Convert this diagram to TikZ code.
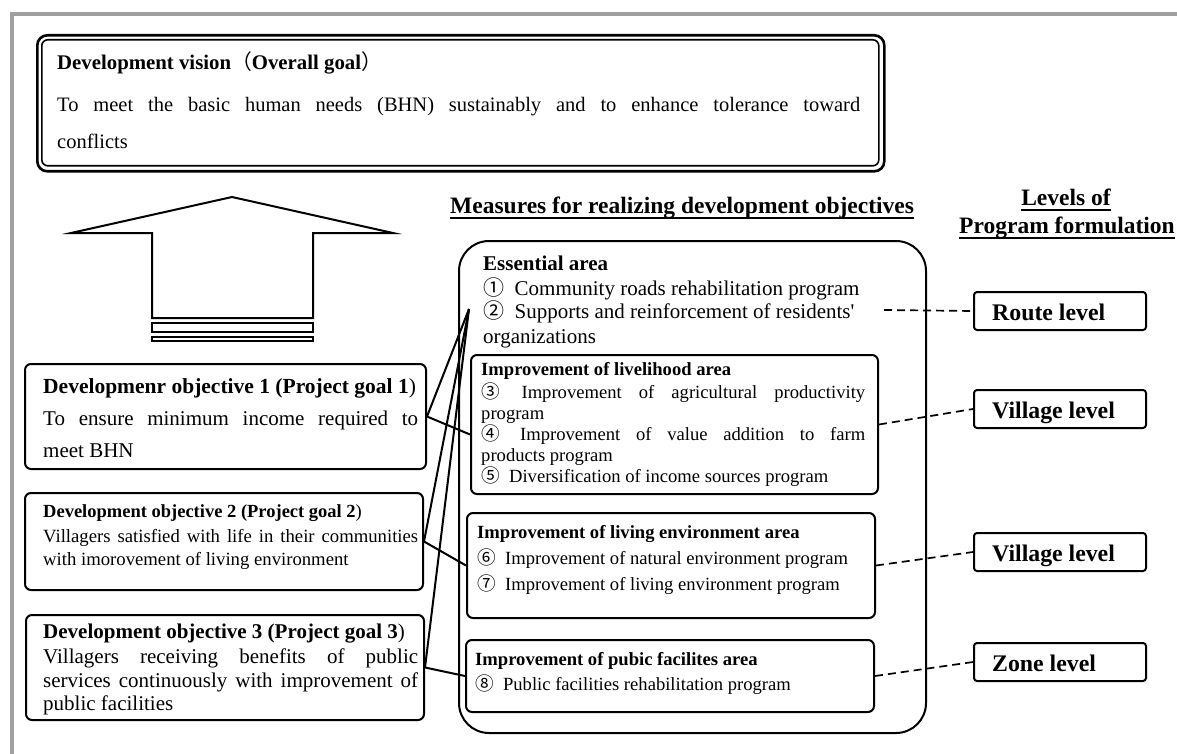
\documentclass[tikz,border=0pt]{standalone}
\usepackage{fontspec}
\setmainfont{Liberation Serif}
\newfontfamily\cjk{Noto Sans CJK JP}
\usetikzlibrary{calc}
\definecolor{framegray}{RGB}{160,160,160}
\newcommand{\fs}[1]{\fontsize{#1}{#1}\selectfont}
\newcommand{\cnum}[1]{{\cjk\mdseries #1}\hspace{0.25em}}
\begin{document}
\begin{tikzpicture}[x=1pt,y=-1pt,
  box/.style={draw, line width=2pt, rounded corners=6pt, anchor=north west, inner sep=0pt},
  lvlbox/.style={draw, line width=2pt, rounded corners=3pt, anchor=north west, inner sep=0pt, minimum width=172pt, minimum height=38pt},
  txt/.style={anchor=base west, inner sep=0pt},
  link/.style={line width=2pt},
  dashline/.style={line width=1.7pt, dash pattern=on 8pt off 5pt},
  ul/.style={line width=1.8pt}
]
\useasboundingbox (0,0) rectangle (1177,754);
% frame
\draw[framegray, line width=3.5pt] (12,756) -- (12,14) -- (1179,14);

% vision box
\node[box, line width=2.6pt, rounded corners=10pt, minimum width=847pt, minimum height=136pt] (visout) at (36,34) {};
\node[box, line width=1.6pt, rounded corners=6pt, minimum width=837pt, minimum height=126pt] (vision) at (41,39) {};
\node[txt] (vt) at (57,70) {\fs{20.8}\bfseries Development vision{\cjk\mdseries （}Overall goal{\cjk\mdseries ）}};
\node[txt] (vl1) at (57,112) {\fs{20.5}\makebox[803pt][s]{To meet the basic human needs (BHN) sustainably and to enhance tolerance toward}};
\node[txt] (vl2) at (57,149) {\fs{20.5}conflicts};

% up arrow
\draw[line width=2pt, line join=miter] (232,197) -- (393,233) -- (313,233) -- (313,318) -- (152,318) -- (152,233) -- (71,233) -- cycle;
\draw[line width=1.7pt] (152,323) rectangle (313,332);
\draw[line width=1.7pt] (152,337) rectangle (313,341);

% objectives
\node[box, minimum width=401pt, minimum height=105pt] (obj1) at (24,363) {};
\node[txt] (o1t) at (43,393) {\fs{21.5}\bfseries Developmenr objective 1 (Project goal 1{\mdseries )}};
\node[txt] (o1a) at (43,425) {\fs{21}\makebox[375pt][s]{To ensure minimum income required to}};
\node[txt] (o1b) at (43,457) {\fs{21}meet BHN};

\node[box, minimum width=398pt, minimum height=97pt] (obj2) at (24,492) {};
\node[txt] (o2t) at (43,517) {\fs{18.5}\bfseries Development objective 2 (Project goal 2{\mdseries )}};
\node[txt] (o2a) at (43,542) {\fs{18.7}\makebox[375pt][s]{Villagers satisfied with life in their communities}};
\node[txt] (o2b) at (43,565) {\fs{18.7}with imorovement of living environment};

\node[box, minimum width=398pt, minimum height=105pt] (obj3) at (25,614) {};
\node[txt] (o3t) at (43,638) {\fs{21}\bfseries Development objective 3 (Project goal 3{\mdseries )}};
\node[txt] (o3a) at (43,663) {\fs{21}\makebox[375pt][s]{Villagers receiving benefits of public}};
\node[txt] (o3b) at (43,687) {\fs{21}\makebox[375pt][s]{services continuously with improvement of}};
\node[txt] (o3c) at (43,710) {\fs{21}public facilities};

% headings
\node[txt] (meas) at (450,213) {\fs{23.5}\bfseries Measures for realizing development objectives};
\draw[ul] ($(meas.base west)+(0,5)$) -- ($(meas.base east)+(0,5)$);
\node[anchor=base, inner sep=0pt] (lev1) at (1066,205) {\fs{23.5}\bfseries Levels of};
\draw[ul] ($(lev1.base west)+(0,5)$) -- ($(lev1.base east)+(0,5)$);
\node[anchor=base, inner sep=0pt] (lev2) at (1067,233) {\fs{23.5}\bfseries Program formulation};
\draw[ul] ($(lev2.base west)+(0,5)$) -- ($(lev2.base east)+(0,5)$);

% measures container
\node[box, rounded corners=30pt, minimum width=467pt, minimum height=492pt] (measures) at (458,240) {};
\node[txt] (et) at (483,270) {\fs{21}\bfseries Essential area};
\node[txt] (e1) at (483,295) {\fs{21}\cnum{①} Community roads rehabilitation program};
\node[txt] (e2) at (483,318) {\fs{21}\cnum{②} Supports and reinforcement of residents\textquotesingle};
\node[txt] (e3) at (483,343) {\fs{21}organizations};

\node[box, minimum width=407pt, minimum height=139pt] (liv) at (470,354) {};
\node[txt] (lt) at (481,375) {\fs{18.6}\bfseries Improvement of livelihood area};
\node[txt] (l3) at (481,398) {\fs{18.6}\makebox[384pt][s]{\cnum{③} Improvement of agricultural productivity}};
\node[txt] (l3b) at (481,419) {\fs{18.6}program};
\node[txt] (l4) at (481,440) {\fs{18.6}\makebox[384pt][s]{\cnum{④} Improvement of value addition to farm}};
\node[txt] (l4b) at (481,461) {\fs{18.6}products program};
\node[txt] (l5) at (481,482) {\fs{18.6}\cnum{⑤} Diversification of income sources program};

\node[box, minimum width=408pt, minimum height=105pt] (env) at (466,512) {};
\node[txt] (nt) at (477,538) {\fs{18.6}\bfseries Improvement of living environment area};
\node[txt] (n6) at (477,564) {\fs{18.6}\cnum{⑥} Improvement of natural environment program};
\node[txt] (n7) at (477,590) {\fs{18.6}\cnum{⑦} Improvement of living environment program};

\node[box, minimum width=408pt, minimum height=72pt] (pub) at (465,639) {};
\node[txt] (pt) at (475,665) {\fs{18.6}\bfseries Improvement of pubic facilites area};
\node[txt] (p8) at (475,690) {\fs{18.6}\cnum{⑧} Public facilities rehabilitation program};

% level boxes
\node[lvlbox] (route) at (973,291) {};
\node[txt] (routet) at (992,320) {\fs{23.8}\bfseries Route level};
\node[lvlbox] (vil1) at (973,389) {};
\node[txt] (vil1t) at (992,418) {\fs{23.8}\bfseries Village level};
\node[lvlbox] (vil2) at (973,532) {};
\node[txt] (vil2t) at (992,561) {\fs{23.8}\bfseries Village level};
\node[lvlbox] (zone) at (973,642) {};
\node[txt] (zonet) at (992,671) {\fs{23.8}\bfseries Zone level};

% connectors
\coordinate (hub) at (469,309);
\draw[link, line join=round] (hub) -- (obj1.east) -- ($(liv.west)+(0,10)$);
\draw[link, line join=round] (hub) -- (obj2.east) -- (env.west);
\draw[link, line join=round] (hub) -- (obj3.east) -- (pub.west);

\coordinate (rs) at (884,310);
\draw[dashline] (rs) -- (route.west);
\draw[dashline] (liv.east) -- (vil1.west);
\draw[dashline] (env.east) -- (vil2.west);
\draw[dashline] (pub.east) -- (zone.west);
\end{tikzpicture}
\end{document}
